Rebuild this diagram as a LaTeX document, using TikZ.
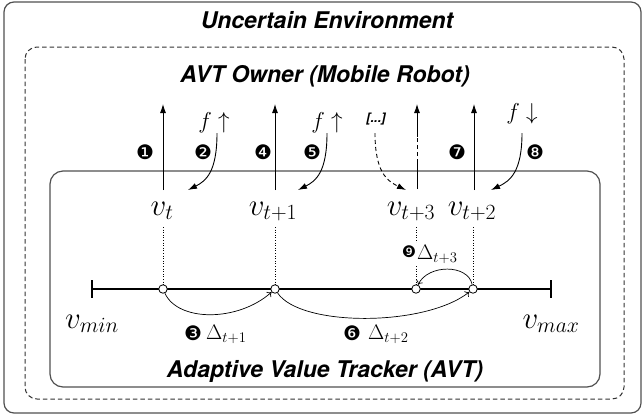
\RequirePackage{fix-cm}
\documentclass[tikz,border=0pt]{standalone}
\usepackage{fontspec}
\setsansfont{TeX Gyre Heros}
\newfontfamily\dingfont{DejaVu Sans}
\usetikzlibrary{arrows.meta}
\definecolor{boxgray}{HTML}{505050}
\definecolor{dashgray}{HTML}{333333}
\begin{document}
\begin{tikzpicture}[x=1pt,y=-1pt,
  title/.style={font=\fontsize{23}{27}\selectfont\sffamily\bfseries\itshape, anchor=base, inner sep=0},
  vlab/.style={font=\fontsize{31}{36}\selectfont, anchor=base, inner sep=0},
  flab/.style={font=\fontsize{23}{28}\selectfont, anchor=base, inner sep=0},
  num/.style={font=\fontsize{20}{22}\selectfont\dingfont, inner sep=0},
  dlab/.style={font=\fontsize{21}{24}\selectfont, anchor=base west, inner sep=0},
  pt/.style={circle, draw, fill=white, inner sep=0, minimum size=8.5pt, line width=0.8pt},
  uparr/.style={-{Latex[length=9pt,width=6pt]}, line width=0.9pt},
  curvarr/.style={-{Latex[length=9pt,width=6pt]}, line width=0.9pt},
  arcarr/.style={-{To[length=4pt,width=7pt]}, line width=0.7pt},
  dotline/.style={dotted, line width=0.6pt},
]
\useasboundingbox (0,0) rectangle (644,418);
% boxes
\draw[boxgray, line width=1.2pt, rounded corners=10pt] (4,2) rectangle (641,413);
\draw[dashgray, line width=1pt, dash pattern=on 4.5pt off 3pt, rounded corners=12pt] (25,47) rectangle (624,399);
\draw[boxgray, line width=1.2pt, rounded corners=13pt] (50,171) rectangle (600,387);
% titles
\node[title] (env) at (327,28) {Uncertain Environment};
\node[title] (own) at (325,82) {AVT Owner (Mobile Robot)};
\node[title] (avt) at (325,377) {Adaptive Value Tracker (AVT)};
% number line
\coordinate (lmin) at (92,289);
\coordinate (lmax) at (551,289);
\draw[line width=1.2pt] (lmin) -- (lmax);
\draw[line width=1.2pt] (lmin) ++(0,-9) -- ++(0,18);
\draw[line width=1.2pt] (lmax) ++(0,-9) -- ++(0,18);
\node[pt] (c1) at (163,289) {};
\node[pt] (c2) at (275,289) {};
\node[pt] (c3) at (416,289) {};
\node[pt] (c4) at (473,289) {};
% value labels
\node[vlab] (vt) at (162,215) {$v_t$};
\node[vlab] (vt1) at (273,215) {$v_{t+1}$};
\node[vlab] (vt3) at (411,215) {$v_{t+3}$};
\node[vlab] (vt2) at (472,215) {$v_{t+2}$};
\node[vlab] (vmin) at (92,328) {$v_{min}$};
\node[vlab] (vmax) at (551,328) {$v_{max}$};
% dotted guides
\coordinate (g1) at (163,227);
\coordinate (g2) at (275,227);
\coordinate (g3) at (416,227);
\coordinate (g4) at (473,227);
\draw[dotline] (g1) -- (c1);
\draw[dotline] (g2) -- (c2);
\draw[dotline] (g3) -- (c3);
\draw[dotline] (g4) -- (c4);
% arcs
\draw[arcarr] (c1) .. controls (178,322) and (238,322) .. (c2);
\draw[arcarr] (c2) .. controls (300,327) and (425,327) .. (c4);
\draw[arcarr] (c4) .. controls (468,264) and (428,264) .. (c3);
% delta labels
\node[num] (n3) at (193,333) {❸};
\node[dlab] (d1) at (206,339) {$\Delta_{t+1}$};
\node[num] (n6) at (352,333) {❻};
\node[dlab] (d2) at (368,339) {$\Delta_{t+2}$};
\node[num, font=\fontsize{16}{18}\selectfont\dingfont] (n9) at (409,252) {❾};
\node[dlab, fill=white, inner sep=1.5pt] (d3) at (415.5,259) {$\Delta_{t+3}$};
% top labels
\node[flab] (f1) at (214,128) {$f\uparrow$};
\node[flab] (f2) at (327,128) {$f\uparrow$};
\node[flab] (f3) at (522,119) {$f\downarrow$};
\node[font=\fontsize{13}{15}\selectfont\sffamily\bfseries\itshape, anchor=base, inner sep=0] (dots) at (376,122) {[...]};
\node[num] (n1) at (145,152) {❶};
\node[num] (n2) at (203,152) {❷};
\node[num] (n4) at (263,152) {❹};
\node[num] (n5) at (312,152) {❺};
\node[num] (n7) at (457,152) {❼};
\node[num] (n8) at (535,152) {❽};
% vertical arrows
\coordinate (a1b) at (163,190); \coordinate (a1t) at (163,104);
\coordinate (a2b) at (275,190); \coordinate (a2t) at (275,104);
\coordinate (a3b) at (417,189); \coordinate (a3m) at (417,163);
\coordinate (a3n) at (417,137); \coordinate (a3t) at (417,104);
\coordinate (a4b) at (474,190); \coordinate (a4t) at (474,104);
\draw[uparr] (a1b) -- (a1t);
\draw[uparr] (a2b) -- (a2t);
\draw[line width=0.9pt] (a3b) -- (a3m);
\draw[line width=0.9pt, dash pattern=on 4pt off 3pt] (a3m) -- (a3n);
\draw[uparr] (a3n) -- (a3t);
\draw[uparr] (a4b) -- (a4t);
% curved arrows
\coordinate (s1) at (217,133); \coordinate (e1) at (188,190);
\coordinate (s2) at (327,133); \coordinate (e2) at (298,190);
\coordinate (s3) at (522,133); \coordinate (e3) at (491,190);
\coordinate (s4) at (375,133); \coordinate (e4) at (406,190);
\draw[curvarr] (s1) .. controls (217,172) and (206,181) .. (e1);
\draw[curvarr] (s2) .. controls (327,172) and (316,181) .. (e2);
\draw[curvarr] (s3) .. controls (522,172) and (510,181) .. (e3);
\draw[curvarr, dash pattern=on 4pt off 3pt] (s4) .. controls (375,172) and (387,181) .. (e4);
\end{tikzpicture}
\end{document}
